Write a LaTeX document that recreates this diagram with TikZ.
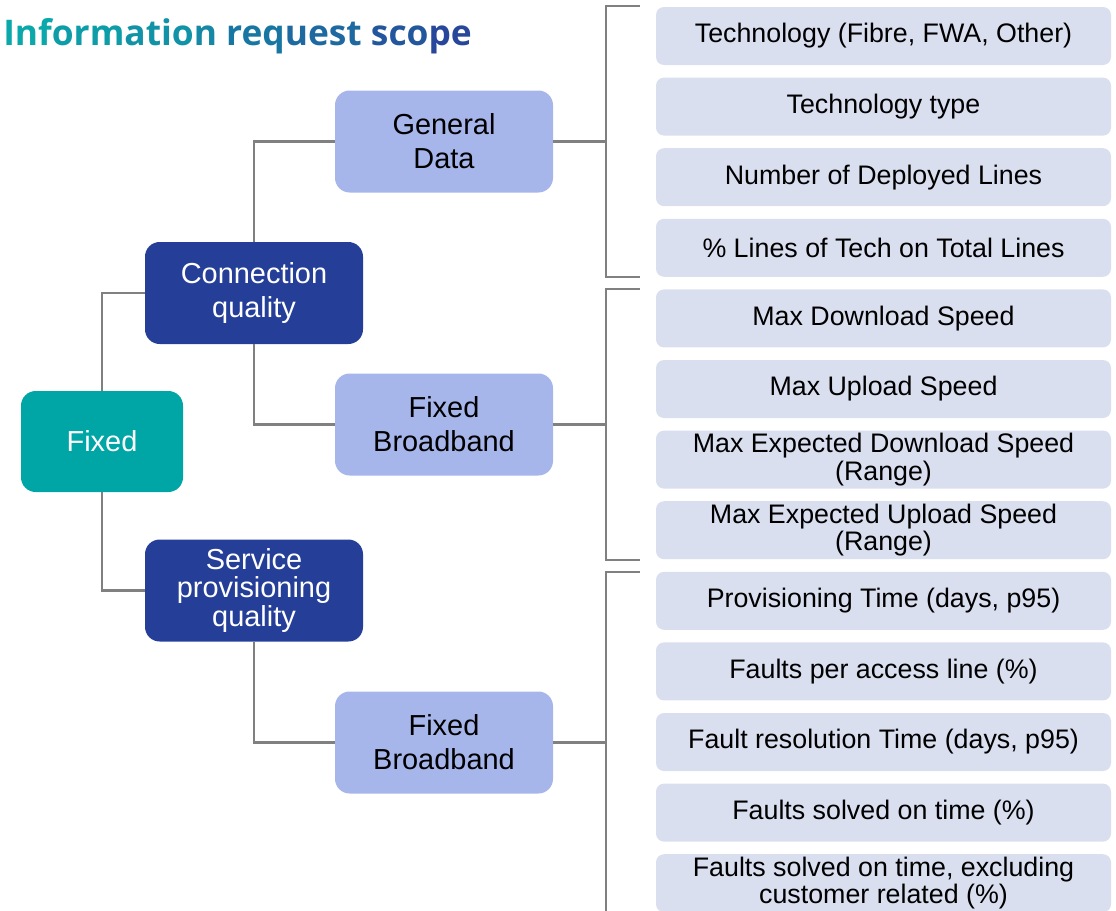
\documentclass[tikz,border=0pt]{standalone}
\usepackage{fontspec}
\setmainfont{Liberation Sans}
\newfontfamily\titlefont{Open Sans}
\usetikzlibrary{positioning}

\definecolor{fixedteal}{RGB}{0,166,166}
\definecolor{darkblue}{RGB}{37,63,152}
\definecolor{lavender}{RGB}{166,181,234}
\definecolor{paleblue}{RGB}{218,223,240}
\definecolor{linegray}{RGB}{128,128,128}
\definecolor{titleA}{RGB}{10,168,170}
\definecolor{titleB}{RGB}{42,60,152}

\newcommand{\titlepart}[2]{\textcolor{titleB!#1!titleA}{#2}}

\tikzset{
  box/.style={rounded corners=11pt, inner sep=0pt, align=center,
    minimum width=163.5pt, minimum height=76.5pt,
    font=\fontsize{21.7}{25.5}\selectfont},
  rootbox/.style={box, fill=fixedteal, text=white,
    minimum width=121.5pt, minimum height=75.75pt},
  groupbox/.style={box, fill=darkblue, text=white},
  subbox/.style={box, fill=lavender, text=black},
  itembox/.style={rounded corners=6pt, inner sep=0pt, align=center,
    fill=paleblue, minimum width=341.25pt, minimum height=43.5pt,
    font=\fontsize{20.1}{20.5}\selectfont},
  link/.style={draw=linegray, line width=2pt}
}

\begin{document}
\begin{tikzpicture}[x=0.75pt, y=-0.75pt]
    \useasboundingbox (0,0) rectangle (1116,910);
    \clip (0,0) rectangle (1116,910);

    % 1. Title
    \node[anchor=base west, inner sep=0pt, font=\titlefont\bfseries\fontsize{26.5}{30}\selectfont]
        (title) at (3,45) {\titlepart{0}{Inf}\titlepart{10}{orm}\titlepart{20}{atio}\titlepart{30}{n }%
        \titlepart{45}{req}\titlepart{58}{uest }\titlepart{75}{sco}\titlepart{90}{pe}};

    % 2. Tree boxes
    \node[rootbox]  (fixed) at (102,441.5) {Fixed};
    \node[groupbox] (conn)  at (254,293)   {Connection\\quality};
    \node[groupbox, font=\fontsize{21.7}{21.5}\selectfont]
                    (serv)  at (254,590.5) {Service\\provisioning\\quality};
    \node[subbox]   (gen)   at (444,141.5) {General\\Data};
    \node[subbox]   (fbA)   at (444,424.5) {Fixed\\Broadband};
    \node[subbox]   (fbB)   at (444,742.5) {Fixed\\Broadband};

    % 3. Items
    \foreach \t [count=\i] in {{Technology (Fibre, FWA, Other)}, {Technology type},
        {Number of Deployed Lines}, {\% Lines of Tech on Total Lines},
        {Max Download Speed}, {Max Upload Speed},
        {Max Expected Download Speed\\(Range)}, {Max Expected Upload Speed\\(Range)},
        {Provisioning Time (days, p95)}, {Faults per access line (\%)},
        {Fault resolution Time (days, p95)}, {Faults solved on time (\%)},
        {Faults solved on time, excluding\\customer related (\%)}} {
        \node[itembox] (it-\i) at (883.5, {36+70.6*(\i-1)}) {\t};
    }

    % 4. Connectors
    \draw[link] (fixed.north) |- (conn.west);
    \draw[link] (fixed.south) |- (serv.west);
    \draw[link] (conn.north) |- (gen.west);
    \draw[link] (conn.south) |- (fbA.west);
    \draw[link] (serv.south) |- (fbB.west);

    % 5. Brackets
    \coordinate (brA) at (606,141.5);
    \coordinate (brB) at (606,424.5);
    \coordinate (brC) at (606,742.5);
    \draw[link] (gen.east) -- (brA);
    \draw[link] (fbA.east) -- (brB);
    \draw[link] (fbB.east) -- (brC);
    \draw[link] (640,6) -- (606,6) -- (606,277) -- (640,277);
    \draw[link] (640,289) -- (606,289) -- (606,560) -- (640,560);
    \draw[link] (640,572) -- (606,572) -- (606,920);
\end{tikzpicture}
\end{document}
